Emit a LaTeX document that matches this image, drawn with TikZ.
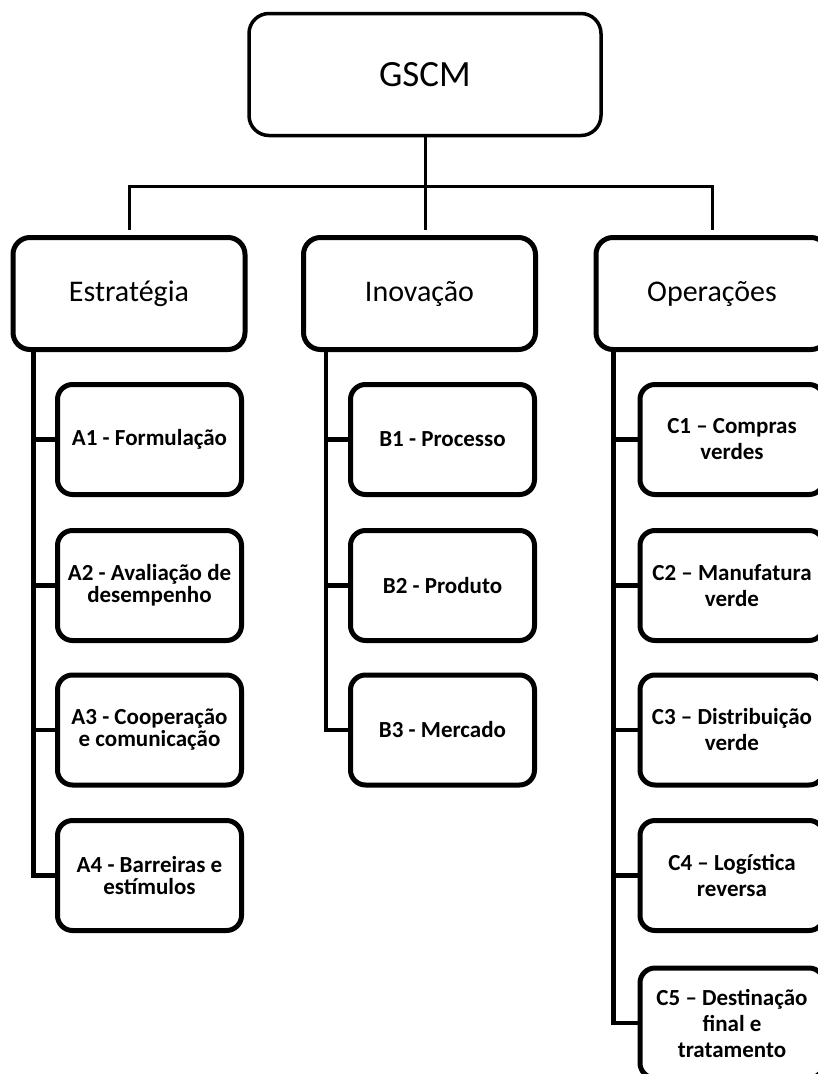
\documentclass[tikz,border=0pt]{standalone}
\usepackage{fontspec}
\setmainfont{Carlito}
\usetikzlibrary{positioning,calc}

\begin{document}
\begin{tikzpicture}[
    x=1pt, y=-1pt,
    rootbox/.style={draw, rounded corners=20pt, line width=3.5pt, minimum width=352pt, minimum height=122pt, align=center, font=\fontsize{37}{42}\selectfont},
    catbox/.style={draw, rounded corners=17pt, line width=5pt, minimum width=232pt, minimum height=112pt, align=center, font=\fontsize{30}{34}\selectfont},
    subbox/.style={draw, rounded corners=15pt, line width=5pt, minimum width=184pt, minimum height=110pt, align=center, font=\bfseries\fontsize{23}{22}\selectfont},
    wide/.style={font=\bfseries\fontsize{23}{26}\selectfont},
    bus/.style={line width=3pt},
    trunk/.style={line width=4.5pt}
]
\useasboundingbox (0,0) rectangle (818,1074);
\clip (0,0) rectangle (818,1074);

% Top level
\node[rootbox] (gscm) at (425, 74.5) {GSCM};

% Categories
\node[catbox] (estr) at (129, 293.5) {Estratégia};
\node[catbox] (inov) at (419.5, 293.5) {Inovação};
\node[catbox] (oper) at (712, 293.5) {Operações};

% Bus
\coordinate (bus) at (425, 186);
\draw[bus, shorten >=5pt] (gscm.south) -- (gscm.south |- inov.north);
\draw[bus, shorten <=5pt, shorten >=5pt] (estr.north) |- (bus) -| (oper.north);

% Estratégia
\node[subbox] (a1) at (149.5, 439.5) {A1 - Formulação};
\node[subbox] (a2) at (149.5, 585.5) {A2 - Avaliação de\\desempenho};
\node[subbox] (a3) at (149.5, 730) {A3 - Cooperação\\e comunicação};
\node[subbox] (a4) at (149.5, 875.5) {A4 - Barreiras e\\estímulos};

% Inovação
\node[subbox] (b1) at (442.5, 439.5) {B1 - Processo};
\node[subbox] (b2) at (442.5, 585.5) {B2 - Produto};
\node[subbox] (b3) at (442.5, 730) {B3 - Mercado};

% Operações
\node[subbox, wide] (c1) at (732, 439.5) {C1 \textendash{} Compras\\verdes};
\node[subbox, wide] (c2) at (732, 585.5) {C2 \textendash{} Manufatura\\verde};
\node[subbox, wide] (c3) at (732, 730) {C3 \textendash{} Distribuição\\verde};
\node[subbox, wide] (c4) at (732, 875.5) {C4 \textendash{} Logística\\reversa};
\node[subbox, wide] (c5) at (732, 1023) {C5 \textendash{} Destinação\\final e\\tratamento};

% Trunks
\draw[trunk] ($(estr.south west)+(23,0)$) |- (a4.west);
\draw[trunk] (a1.west) -- ++(-21,0);
\draw[trunk] (a2.west) -- ++(-21,0);
\draw[trunk] (a3.west) -- ++(-21,0);

\draw[trunk] ($(inov.south west)+(25,0)$) |- (b3.west);
\draw[trunk] (b1.west) -- ++(-21.5,0);
\draw[trunk] (b2.west) -- ++(-21.5,0);

\draw[trunk] ($(oper.south west)+(20,0)$) |- (c5.west);
\draw[trunk] (c1.west) -- ++(-23.5,0);
\draw[trunk] (c2.west) -- ++(-23.5,0);
\draw[trunk] (c3.west) -- ++(-23.5,0);
\draw[trunk] (c4.west) -- ++(-23.5,0);

\end{tikzpicture}
\end{document}
